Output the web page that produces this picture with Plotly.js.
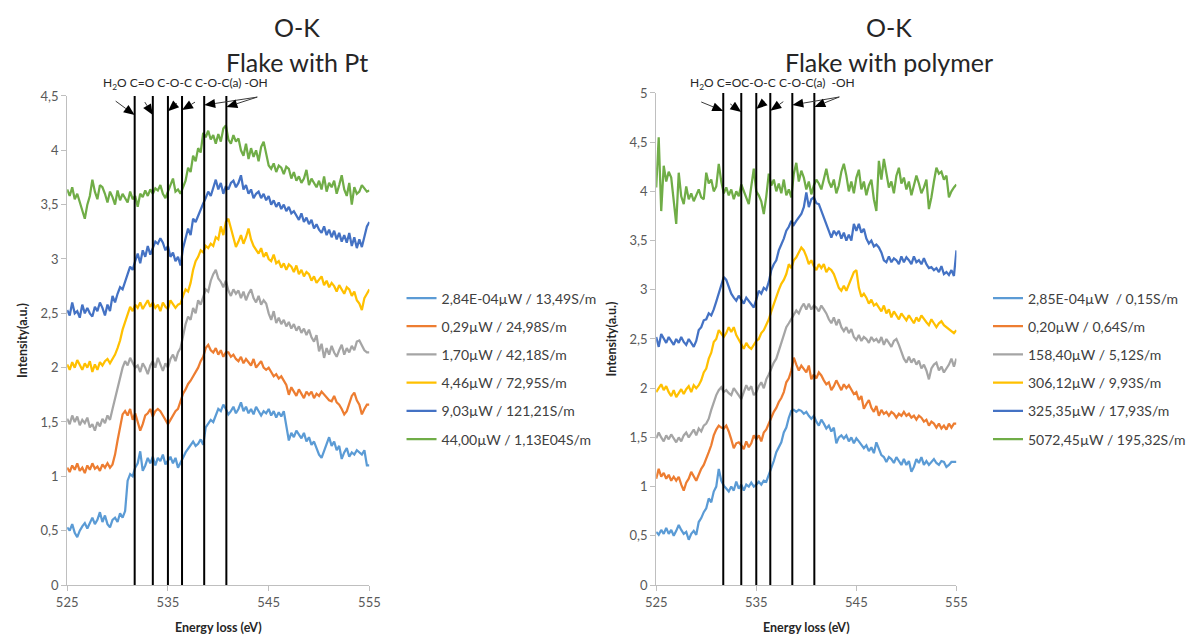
<!DOCTYPE html>
<html>
<head>
<meta charset="utf-8">
<script src="https://cdn.plot.ly/plotly-3.0.1.min.js"></script>
<style>html,body{margin:0;padding:0;background:#fff;}#chart{width:1191px;height:639px;}</style>
</head>
<body>
<div id="chart"></div>
<script>
// ---------- DATA ----------
const energy = [525,525.25,525.5,525.75,526,526.25,526.5,526.75,527,527.25,527.5,527.75,528,528.25,528.5,528.75,529,529.25,529.5,529.75,530,530.25,530.5,530.75,531,531.25,531.5,531.75,532,532.25,532.5,532.75,533,533.25,533.5,533.75,534,534.25,534.5,534.75,535,535.25,535.5,535.75,536,536.25,536.5,536.75,537,537.25,537.5,537.75,538,538.25,538.5,538.75,539,539.25,539.5,539.75,540,540.25,540.5,540.75,541,541.25,541.5,541.75,542,542.25,542.5,542.75,543,543.25,543.5,543.75,544,544.25,544.5,544.75,545,545.25,545.5,545.75,546,546.25,546.5,546.75,547,547.25,547.5,547.75,548,548.25,548.5,548.75,549,549.25,549.5,549.75,550,550.25,550.5,550.75,551,551.25,551.5,551.75,552,552.25,552.5,552.75,553,553.25,553.5,553.75,554,554.25,554.5,554.75,555];

const xTicks = [525, 535, 545, 555];
const peakPositions = [531.7, 533.5, 535.0, 536.4, 538.6, 540.8];
const peakLabelsPt = 'H<sub>2</sub>O C=O C-O-C C-O-C(a) -OH';
const peakLabelsPoly = 'H<sub>2</sub>O C=OC-O-C C-O-C(a)&nbsp; -OH';

// Flake with Pt
const ptLabels = ["2,84E-04µW / 13,49S/m", "0,29µW / 24,98S/m", "1,70µW / 42,18S/m", "4,46µW / 72,95S/m", "9,03µW / 121,21S/m", "44,00µW / 1,13E04S/m"];
const pt1 = [0.53,0.50,0.56,0.48, 0.44,0.50,0.54,0.57, 0.52,0.57,0.62,0.56, 0.60,0.67,0.58,0.64, 0.56,0.53,0.60,0.62, 0.58,0.66,0.62,0.68, 0.96,1.02,1.00,1.08, 1.12,1.23,1.05,1.10, 1.17,1.12,1.18,1.10, 1.17,1.14,1.20,1.11, 1.15,1.18,1.12,1.17, 1.08,1.12,1.17,1.22, 1.25,1.29,1.32,1.28, 1.30,1.34,1.29,1.45, 1.48,1.52,1.50,1.57, 1.62,1.60,1.66,1.62, 1.57,1.60,1.64,1.58, 1.62,1.68,1.60,1.64, 1.58,1.62,1.57,1.64, 1.60,1.56,1.60,1.58, 1.62,1.56,1.60,1.54, 1.59,1.55,1.60,1.48, 1.33,1.40,1.36,1.42, 1.39,1.35,1.40,1.32, 1.36,1.29,1.32,1.26, 1.20,1.17,1.24,1.30, 1.36,1.28,1.32,1.24, 1.28,1.16,1.22,1.26, 1.18,1.22,1.20,1.24, 1.22,1.20,1.24,1.10, 1.10];
const pt2 = [1.08,1.04,1.10,1.06, 1.12,1.05,1.08,1.03, 1.10,1.06,1.12,1.07, 1.09,1.05,1.11,1.08, 1.12,1.08,1.11,1.20, 1.33,1.45,1.57,1.60, 1.56,1.62,1.52,1.58, 1.50,1.42,1.48,1.56, 1.58,1.62,1.55,1.60, 1.62,1.60,1.56,1.52, 1.48,1.52,1.56,1.60, 1.62,1.69,1.76,1.80, 1.85,1.88,1.92,1.96, 2.00,2.06,2.10,2.18, 2.21,2.16,2.14,2.18, 2.12,2.16,2.10,2.14, 2.14,2.10,2.12,2.08, 2.06,2.10,2.04,2.08, 2.05,2.02,2.08,2.00, 2.03,2.06,2.00,1.98, 2.00,1.96,1.92,1.94, 1.90,1.92,1.88,1.84, 1.75,1.82,1.78,1.74, 1.80,1.76,1.72,1.78, 1.75,1.78,1.72,1.76, 1.74,1.78,1.75,1.72, 1.70,1.69,1.74,1.68, 1.66,1.62,1.57,1.60, 1.68,1.74,1.77,1.70, 1.66,1.57,1.62,1.66, 1.66];
const pt3 = [1.53,1.48,1.56,1.50, 1.55,1.47,1.52,1.49, 1.54,1.45,1.48,1.42, 1.50,1.46,1.53,1.49, 1.56,1.52,1.62,1.72, 1.80,1.92,2.00,2.06, 2.02,2.09,2.04,2.00, 2.02,1.96,2.04,2.00, 1.94,2.02,2.06,2.00, 2.09,2.03,1.97,2.04, 2.00,2.08,2.12,2.06, 2.14,2.18,2.30,2.40, 2.47,2.44,2.55,2.50, 2.62,2.58,2.65,2.72, 2.70,2.80,2.86,2.90, 2.82,2.79,2.74,2.80, 2.71,2.66,2.72,2.68, 2.71,2.64,2.70,2.62, 2.68,2.72,2.64,2.60, 2.66,2.58,2.62,2.59, 2.50,2.44,2.52,2.41, 2.46,2.40,2.44,2.38, 2.42,2.36,2.40,2.34, 2.38,2.32,2.36,2.30, 2.35,2.28,2.24,2.30, 2.15,2.22,2.09,2.18, 2.12,2.20,2.14,2.10, 2.16,2.21,2.12,2.18, 2.14,2.20,2.16,2.24, 2.25,2.20,2.16,2.14, 2.14];
const pt4 = [2.03,1.98,2.05,2.00, 2.07,2.02,1.98,2.04, 2.00,2.06,1.96,2.03, 1.98,2.05,2.02,2.06, 2.08,2.04,2.08,2.12, 2.18,2.25,2.35,2.42, 2.50,2.56,2.52,2.58, 2.55,2.60,2.54,2.58, 2.62,2.56,2.60,2.55, 2.58,2.52,2.60,2.56, 2.54,2.62,2.58,2.55, 2.58,2.59,2.66,2.72, 2.70,2.78,2.90,2.98, 3.02,3.08,3.06,3.12, 3.10,3.14,3.12,3.20, 3.18,3.30,3.22,3.34, 3.37,3.28,3.20,3.11, 3.16,3.22,3.14,3.20, 3.28,3.18,3.12,3.08, 3.05,3.10,3.02,3.06, 3.00,2.98,3.04,2.96, 2.98,2.92,2.96,2.90, 2.95,2.93,2.88,2.94, 2.86,2.90,2.84,2.88, 2.86,2.80,2.84,2.78, 2.81,2.84,2.76,2.80, 2.74,2.78,2.75,2.70, 2.76,2.72,2.68,2.74, 2.72,2.66,2.70,2.62, 2.59,2.53,2.64,2.68, 2.72];
const pt5 = [2.53,2.48,2.60,2.50, 2.52,2.46,2.58,2.50, 2.55,2.50,2.47,2.56, 2.52,2.60,2.55,2.48, 2.58,2.52,2.66,2.60, 2.68,2.74,2.72,2.80, 2.86,2.93,2.90,2.98, 3.05,2.96,3.08,3.02, 3.12,3.04,3.10,3.16, 3.14,3.19,3.15,3.08, 3.12,3.02,3.06,2.98, 3.02,2.94,3.10,3.20, 3.28,3.22,3.37,3.34, 3.40,3.46,3.51,3.56, 3.62,3.58,3.66,3.73, 3.64,3.70,3.60,3.67, 3.64,3.70,3.72,3.66, 3.70,3.77,3.64,3.68, 3.60,3.64,3.56,3.60, 3.62,3.56,3.60,3.54, 3.58,3.50,3.54,3.48, 3.52,3.46,3.50,3.44, 3.48,3.42,3.44,3.40, 3.36,3.42,3.34,3.38, 3.32,3.36,3.28,3.32, 3.27,3.24,3.30,3.22, 3.27,3.20,3.26,3.18, 3.24,3.16,3.22,3.15, 3.24,3.12,3.20,3.10, 3.18,3.11,3.22,3.30, 3.34];
const pt6 = [3.64,3.58,3.66,3.55, 3.60,3.52,3.45,3.37, 3.50,3.58,3.73,3.62, 3.55,3.68,3.66,3.60, 3.52,3.62,3.57,3.50, 3.63,3.54,3.60,3.56, 3.52,3.62,3.55,3.58, 3.48,3.60,3.57,3.63, 3.58,3.64,3.60,3.65, 3.63,3.68,3.60,3.56, 3.62,3.68,3.74,3.62, 3.64,3.60,3.66,3.72, 3.84,3.80,3.95,3.90, 4.02,3.98,4.16,4.12, 4.18,4.10,4.14,4.06, 4.15,4.08,4.20,4.23, 4.10,4.06,4.14,4.08, 4.11,4.00,3.95,4.06, 3.92,4.02,3.94,4.00, 3.90,4.03,4.08,3.98, 3.86,3.83,3.88,3.80, 3.86,3.84,3.78,3.85, 3.83,3.74,3.80,3.72, 3.76,3.70,3.74,3.82, 3.68,3.74,3.70,3.66, 3.72,3.64,3.76,3.62, 3.70,3.66,3.72,3.60, 3.68,3.77,3.64,3.58, 3.70,3.50,3.66,3.60, 3.62,3.68,3.65,3.62, 3.63];

// Flake with polymer
const polyLabels = ["2,85E-04µW  / 0,15S/m", "0,20µW / 0,64S/m", "158,40µW / 5,12S/m", "306,12µW / 9,93S/m", "325,35µW / 17,93S/m", "5072,45µW / 195,32S/m"];
const poly1 = [0.54,0.51,0.56,0.52, 0.58,0.52,0.56,0.50, 0.55,0.61,0.56,0.52, 0.54,0.46,0.52,0.55, 0.51,0.64,0.68,0.74, 0.78,0.88,0.84,0.95, 1.00,1.18,1.06,1.01, 0.98,0.95,1.00,0.96, 1.05,0.98,1.02,0.96, 1.02,1.00,1.04,1.00, 1.02,1.05,1.02,1.06, 1.05,1.12,1.18,1.26, 1.35,1.40,1.45,1.55, 1.60,1.70,1.77,1.78, 1.76,1.78,1.77,1.74, 1.76,1.72,1.69,1.72, 1.66,1.62,1.68,1.64, 1.59,1.62,1.56,1.60, 1.44,1.50,1.52,1.49, 1.52,1.46,1.50,1.44, 1.49,1.46,1.42,1.39, 1.42,1.36,1.40,1.34, 1.45,1.38,1.32,1.30, 1.25,1.30,1.28,1.24, 1.30,1.26,1.22,1.28, 1.22,1.26,1.15,1.20, 1.28,1.24,1.30,1.22, 1.26,1.22,1.25,1.28, 1.24,1.22,1.26,1.25, 1.20,1.22,1.25,1.25, 1.25];
const poly2 = [1.08,1.18,1.10,1.14, 1.08,1.12,1.06,1.10, 1.06,1.10,1.02,0.96, 1.04,1.08,1.15,1.10, 1.06,1.12,1.18,1.22, 1.28,1.35,1.42,1.52, 1.58,1.62,1.60,1.59, 1.62,1.56,1.48,1.39, 1.44,1.45,1.42,1.38, 1.46,1.40,1.44,1.52, 1.48,1.52,1.46,1.55, 1.58,1.64,1.69,1.76, 1.80,1.86,1.90,1.96, 2.06,2.10,2.18,2.31, 2.24,2.18,2.23,2.20, 2.16,2.23,2.09,2.14, 2.10,2.16,2.13,2.08, 2.04,2.06,1.98,2.02, 2.08,2.03,1.98,2.04, 2.00,2.03,1.98,1.94, 1.96,1.88,1.92,1.79, 1.84,1.88,1.80,1.76, 1.82,1.72,1.78,1.74, 1.76,1.72,1.76,1.74, 1.70,1.74,1.72,1.76, 1.72,1.74,1.70,1.72, 1.68,1.72,1.70,1.66, 1.68,1.62,1.66,1.64, 1.60,1.64,1.59,1.62, 1.58,1.64,1.60,1.64, 1.64];
const poly3 = [1.49,1.55,1.50,1.46, 1.52,1.48,1.53,1.49, 1.45,1.50,1.46,1.52, 1.55,1.50,1.54,1.58, 1.52,1.59,1.56,1.62, 1.64,1.69,1.78,1.86, 1.93,1.98,2.01,1.96, 1.98,1.95,1.93,2.00, 1.96,1.93,1.89,1.96, 2.03,1.98,2.02,1.93, 1.96,2.02,2.06,2.00, 2.09,2.14,2.20,2.26, 2.30,2.38,2.47,2.56, 2.62,2.66,2.70,2.74, 2.79,2.76,2.82,2.86, 2.80,2.86,2.80,2.84, 2.82,2.78,2.84,2.80, 2.76,2.70,2.66,2.72, 2.64,2.70,2.62,2.58, 2.62,2.56,2.60,2.52, 2.49,2.54,2.48,2.52, 2.50,2.46,2.52,2.48, 2.50,2.46,2.52,2.44, 2.50,2.46,2.42,2.48, 2.50,2.44,2.36,2.30, 2.26,2.32,2.26,2.30, 2.24,2.28,2.20,2.24, 2.18,2.09,2.20,2.24, 2.26,2.18,2.22,2.16, 2.20,2.24,2.30,2.22, 2.30];
const poly4 = [1.96,2.00,2.04,1.98, 2.02,1.96,1.92,1.98, 1.91,1.95,1.99,1.94, 1.99,2.02,1.96,2.03, 2.00,2.03,2.08,2.16, 2.20,2.30,2.36,2.47, 2.50,2.59,2.55,2.52, 2.56,2.62,2.57,2.62, 2.54,2.49,2.44,2.40, 2.46,2.42,2.40,2.44, 2.48,2.50,2.56,2.59, 2.64,2.70,2.78,2.86, 2.92,3.00,3.06,3.10, 3.16,3.26,3.22,3.30, 3.33,3.38,3.43,3.40, 3.34,3.26,3.30,3.24, 3.20,3.26,3.22,3.26, 3.18,3.22,3.20,3.16, 3.08,3.02,2.99,3.04, 2.99,3.06,3.12,3.18, 3.20,3.02,2.93,2.96, 2.92,2.86,2.90,2.84, 2.86,2.82,2.78,2.84, 2.76,2.80,2.72,2.78, 2.74,2.70,2.76,2.72, 2.69,2.74,2.70,2.66, 2.72,2.68,2.74,2.70, 2.67,2.64,2.70,2.66, 2.62,2.66,2.68,2.64, 2.62,2.60,2.58,2.56, 2.59];
const poly5 = [2.52,2.42,2.55,2.50, 2.46,2.52,2.48,2.44, 2.50,2.46,2.52,2.47, 2.44,2.50,2.46,2.42, 2.48,2.59,2.62,2.69, 2.70,2.76,2.74,2.80, 2.88,2.96,3.05,3.13, 3.10,3.03,2.96,2.92, 2.89,2.94,2.90,2.86, 2.92,2.89,2.86,2.82, 2.90,2.99,2.96,3.02, 3.00,3.08,3.20,3.26, 3.30,3.40,3.46,3.52, 3.60,3.64,3.70,3.66, 3.70,3.74,3.77,3.84, 3.99,3.84,3.92,3.94, 3.88,3.87,3.80,3.72, 3.67,3.58,3.53,3.60, 3.56,3.60,3.52,3.58, 3.50,3.56,3.50,3.67, 3.60,3.67,3.58,3.62, 3.52,3.47,3.50,3.44, 3.46,3.43,3.38,3.30, 3.28,3.34,3.28,3.32, 3.30,3.26,3.34,3.28, 3.33,3.30,3.26,3.34, 3.28,3.30,3.26,3.32, 3.26,3.22,3.23,3.20, 3.22,3.18,3.24,3.16, 3.18,3.15,3.20,3.14, 3.40];
const poly6 = [4.04,4.55,3.80,4.26, 4.10,4.20,4.14,3.90, 3.67,4.19,3.95,3.87, 4.05,3.92,3.98,3.90, 3.96,4.02,3.94,3.92, 4.19,4.08,4.12,4.00, 4.05,4.28,4.10,3.98, 4.04,3.96,4.02,3.92, 4.00,3.95,4.07,4.00, 3.92,3.87,4.05,4.23, 4.00,3.96,3.90,3.77, 3.95,4.18,4.06,4.12, 4.00,4.08,3.98,4.12, 3.96,4.02,3.94,4.18, 4.29,4.10,4.21,4.14, 4.02,4.10,3.97,4.06, 4.12,4.08,4.02,4.14, 4.23,4.10,4.04,4.12, 3.98,4.06,4.20,4.28, 4.16,4.00,4.10,3.98, 4.14,4.22,4.02,4.10, 3.96,4.06,4.12,3.92, 3.80,4.31,4.12,4.33, 4.18,4.04,4.10,3.98, 4.16,4.24,4.08,4.14, 4.02,4.10,3.96,4.06, 4.16,4.08,3.98,4.04, 4.12,3.82,3.94,4.10, 4.24,4.18,4.20,4.12, 4.16,3.94,4.00,4.04, 4.07];

const seriesColors = ["#5B9BD5", "#ED7D31", "#A5A5A5", "#FFC000", "#4472C4", "#70AD47"];

// ---------- BUILD ----------
const FONT = 'Lato, "Open Sans", "DejaVu Sans", sans-serif';
const ptSeries = [pt1, pt2, pt3, pt4, pt5, pt6];
const polySeries = [poly1, poly2, poly3, poly4, poly5, poly6];
const traces = [];
ptSeries.forEach((s, i) => traces.push({
  x: energy, y: s, type: 'scatter', mode: 'lines', name: ptLabels[i],
  line: {color: seriesColors[i], width: 2.25}, xaxis: 'x', yaxis: 'y',
  legend: 'legend', legendgroup: 'pt' + i
}));
polySeries.forEach((s, i) => traces.push({
  x: energy, y: s, type: 'scatter', mode: 'lines', name: polyLabels[i],
  line: {color: seriesColors[i], width: 2.25}, xaxis: 'x2', yaxis: 'y2',
  legend: 'legend2', legendgroup: 'poly' + i
}));

const shapes = [];
peakPositions.forEach(p => {
  shapes.push({type: 'line', xref: 'x', yref: 'y', x0: p, x1: p, y0: 0, y1: 4.5, line: {color: '#000', width: 2}});
  shapes.push({type: 'line', xref: 'x2', yref: 'y2', x0: p, x1: p, y0: 0, y1: 5, line: {color: '#000', width: 2}});
});

// pointer arrows: head at (peak, level); tail offset in screen pixels (dx right, dy down)
const pointerSpecs = [
  ['x', 'y', 0, 4.324, -19, -14], ['x', 'y', 1, 4.324, -8, -13], ['x', 'y', 2, 4.36, 9, -8],
  ['x', 'y', 3, 4.37, 13, -8], ['x', 'y', 4, 4.416, 53, -8], ['x', 'y', 5, 4.398, 31, -10],
  ['x2', 'y2', 0, 4.817, -22, -9], ['x2', 'y2', 1, 4.807, -11, -8], ['x2', 'y2', 2, 4.837, 7, -6],
  ['x2', 'y2', 3, 4.82, 13, -9], ['x2', 'y2', 4, 4.878, 47, -8], ['x2', 'y2', 5, 4.858, 25, -10]
];
const HEAD_L = 11, HEAD_W = 9;
pointerSpecs.forEach(([xr, yr, pi, lvl, dx, dy]) => {
  const len = Math.hypot(dx, dy);
  const ux = -dx / len, uy = -dy / len;          // tail -> tip (screen)
  const bx = -ux * HEAD_L, by = -uy * HEAD_L;      // head base centre (screen)
  const nx = -uy * HEAD_W / 2, ny = ux * HEAD_W / 2;
  const f = v => v.toFixed(2);
  const common = {type: 'path', xref: xr, yref: yr, xsizemode: 'pixel', ysizemode: 'pixel',
    xanchor: peakPositions[pi], yanchor: lvl};
  // shape pixel y axis points up, so screen y is negated
  shapes.push(Object.assign({}, common, {
    path: `M${f(dx)},${f(-dy)}L${f(bx)},${f(-by)}`, line: {color: '#3a3a3a', width: 1}}));
  shapes.push(Object.assign({}, common, {
    path: `M0,0L${f(bx + nx)},${f(-(by + ny))}L${f(bx - nx)},${f(-(by - ny))}Z`,
    fillcolor: '#000', line: {width: 0}}));
});

const titleFont = {family: FONT, size: 25, color: '#262626'};
const labelFont = {family: FONT, size: 12, color: '#262626'};
const annotations = [
  {xref: 'paper', yref: 'paper', x: 0.250, y: 0.958, xanchor: 'center', yanchor: 'middle', text: 'O-K', showarrow: false, font: titleFont},
  {xref: 'paper', yref: 'paper', x: 0.250, y: 0.903, xanchor: 'center', yanchor: 'middle', text: 'Flake with Pt', showarrow: false, font: titleFont},
  {xref: 'paper', yref: 'paper', x: 0.748, y: 0.958, xanchor: 'center', yanchor: 'middle', text: 'O-K', showarrow: false, font: titleFont},
  {xref: 'paper', yref: 'paper', x: 0.748, y: 0.903, xanchor: 'center', yanchor: 'middle', text: 'Flake with polymer', showarrow: false, font: titleFont},
  {xref: 'paper', yref: 'paper', x: 0.1562, y: 0.870, xanchor: 'center', yanchor: 'middle', text: peakLabelsPt, showarrow: false, font: labelFont},
  {xref: 'paper', yref: 'paper', x: 0.6500, y: 0.870, xanchor: 'center', yanchor: 'middle', text: peakLabelsPoly, showarrow: false, font: labelFont}
];

function xAxis(domain, anchor) {
  return {domain: domain, anchor: anchor, range: [525, 555], tickvals: xTicks, showgrid: false, zeroline: false,
    showline: true, linecolor: '#bfbfbf', linewidth: 1, ticks: 'outside', ticklen: 5, tickcolor: '#bfbfbf',
    tickfont: {family: FONT, size: 13, color: '#595959'},
    title: {text: 'Energy loss (eV)', font: {family: FONT, size: 12.5, color: '#262626', weight: 'bold'}, standoff: 14}};
}
function yAxis(domain, anchor, max) {
  return {domain: domain, anchor: anchor, range: [0, max], dtick: 0.5, tick0: 0, showgrid: false, zeroline: false,
    showline: true, linecolor: '#bfbfbf', linewidth: 1, ticks: 'outside', ticklen: 5, tickcolor: '#bfbfbf',
    tickfont: {family: FONT, size: 13, color: '#595959'},
    title: {text: 'Intensity(a.u.)', font: {family: FONT, size: 12.5, color: '#262626', weight: 'bold'}, standoff: 10}};
}

const legendBase = {xanchor: 'left', yanchor: 'top', bgcolor: 'rgba(0,0,0,0)', borderwidth: 0,
  font: {family: FONT, size: 14, color: '#404040'}, traceorder: 'grouped', tracegroupgap: 7, itemwidth: 30};

const layout = {
  width: 1191, height: 639, margin: {l: 0, r: 0, t: 0, b: 0},
  paper_bgcolor: '#fff', plot_bgcolor: '#fff', separators: ', ',
  font: {family: FONT, color: '#595959'},
  showlegend: true,
  xaxis: xAxis([0.0565, 0.3107], 'y'),
  yaxis: yAxis([0.0845, 0.8498], 'x', 4.5),
  xaxis2: xAxis([0.5519, 0.8044], 'y2'),
  yaxis2: yAxis([0.0845, 0.8545], 'x2', 5),
  legend: Object.assign({x: 0.3377, y: 0.558}, legendBase),
  legend2: Object.assign({x: 0.831, y: 0.558}, legendBase),
  shapes: shapes,
  annotations: annotations
};

Plotly.newPlot('chart', traces, layout, {displayModeBar: false, staticPlot: true});
</script>
</body>
</html>
